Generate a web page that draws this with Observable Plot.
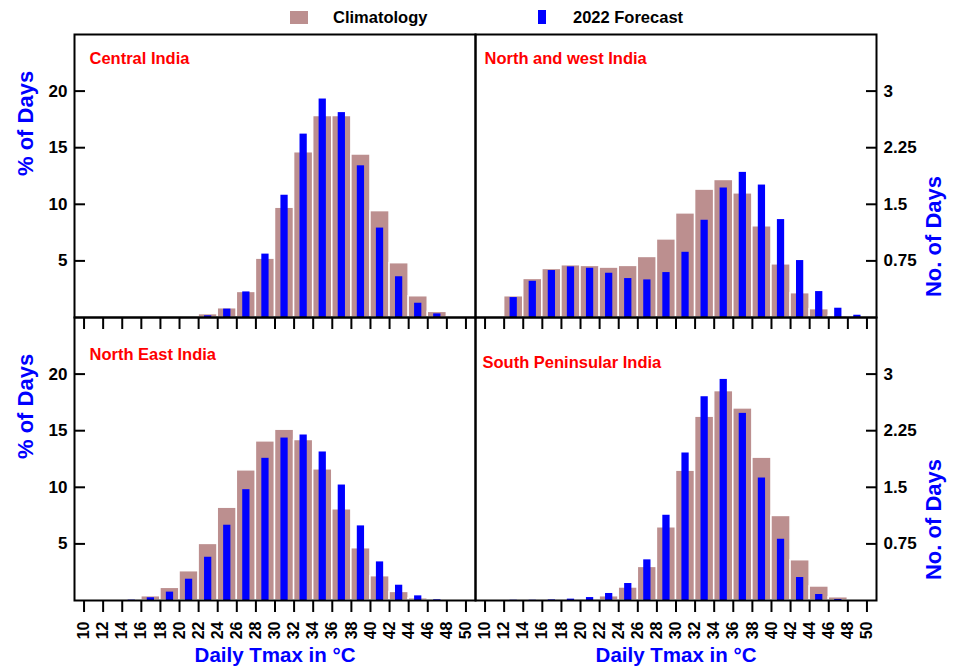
<!DOCTYPE html>
<html><head><meta charset="utf-8">
<script src="https://cdn.jsdelivr.net/npm/d3@7"></script>
<script src="https://cdn.jsdelivr.net/npm/@observablehq/plot@0.6"></script>
<style>
body{margin:0;background:#fff;}
#chart{position:relative;width:957px;height:666px;font-family:"Liberation Sans",Arial,sans-serif;}
#chart svg{position:absolute;left:0;top:0;}
.leg{position:absolute;font-weight:bold;font-size:16.5px;line-height:20px;color:#000;white-space:nowrap;}
.sw{position:absolute;}
</style></head><body><div id="chart"></div>
<script>
// Bin centres (2 °C bins, 10-12 ... 48-50)
const bins = [11,13,15,17,19,21,23,25,27,29,31,33,35,37,39,41,43,45,47,49];
const xTicks = [10,12,14,16,18,20,22,24,26,28,30,32,34,36,38,40,42,44,46,48,50];
const yTicks = [5,10,15,20];
const rightTickLabels = ["0.75","1.5","2.25","3"];
const seriesNames = ["Climatology","2022 Forecast"];
const regions = ["Central India","North and west India","North East India","South Peninsular India"];

// % of days per bin
const centralClim = [0,0,0,0,0,0,0.3,0.82,2.26,5.2,9.7,14.6,17.8,17.8,14.4,9.4,4.8,1.88,0.5,0.05];
const centralFcst = [0,0,0,0,0,0,0.15,0.74,2.26,5.6,10.8,16.2,19.3,18.1,13.4,7.9,3.6,1.26,0.32,0];
const nwClim = [0,1.88,3.41,4.29,4.62,4.56,4.41,4.56,5.35,6.9,9.2,11.3,12.15,10.97,8.06,4.7,2.15,0.74,0.15,0.03];
const nwFcst = [0,1.76,3.2,4.15,4.47,4.35,3.91,3.44,3.32,3.97,5.76,8.59,11.44,12.82,11.7,8.65,5.03,2.29,0.82,0.2];
const neClim = [0,0,0.12,0.38,1.12,2.59,5.0,8.2,11.5,14.06,15.09,14.18,11.59,8.06,4.62,2.15,0.76,0.2,0.05,0];
const neFcst = [0,0,0.03,0.24,0.74,1.88,3.82,6.65,9.79,12.56,14.35,14.62,13.12,10.2,6.59,3.41,1.35,0.41,0.06,0];
const spClim = [0,0.02,0.02,0.03,0.05,0.09,0.38,1.15,2.97,6.47,11.47,16.24,18.5,16.97,12.62,7.47,3.56,1.24,0.29,0.03];
const spFcst = [0,0.02,0.02,0.05,0.12,0.26,0.62,1.5,3.59,7.53,13.03,18.0,19.53,16.53,10.82,5.41,2.03,0.53,0.09,0];

const BROWN = "#bc8f8f", BLUE = "#0000ff";
const W = 957, H = 666;
const chart = document.getElementById("chart");

function panel({clim, fcst, title, col, row, tdx, tdy}) {
  const left = col === 0 ? 74 : 475;
  const right = left + 401;
  const top = row === 0 ? 34 : 317;
  const bottom = top + 283;
  const climData = bins.map((c, i) => ({c, v: clim[i]}));
  const fcstData = bins.map((c, i) => ({c, v: fcst[i]}));
  const marks = [
    Plot.rect(climData, {x1: d => d.c - 1, x2: d => d.c + 1, y1: 0, y2: "v", fill: BROWN, stroke: "white", strokeWidth: 1.5}),
    Plot.rect(fcstData, {x1: d => d.c - 0.38, x2: d => d.c + 0.38, y1: 0, y2: "v", fill: BLUE}),
    Plot.frame({stroke: "black", strokeWidth: 2}),
    Plot.text([title], {frameAnchor: "top-left", dx: tdx, dy: tdy, textAnchor: "start", lineAnchor: "middle", fill: "#ff0000", fontSize: 16.5, fontWeight: "bold"})
  ];
  if (row === 0) {
    marks.push(Plot.axisX({ticks: xTicks, tickSize: 12, strokeWidth: 2, tickFormat: () => "", label: null}));
  } else {
    marks.push(Plot.axisX({ticks: xTicks, tickSize: 12, strokeWidth: 2, tickPadding: 9, tickRotate: -90, fontSize: 16, fontWeight: "bold", label: null}));
    marks.push(Plot.text(["Daily Tmax in °C"], {frameAnchor: "bottom", dy: 55, lineAnchor: "middle", fill: BLUE, fontSize: 20.5, fontWeight: "bold"}));
  }
  if (col === 0) {
    marks.push(Plot.axisY({anchor: "left", ticks: yTicks, tickSize: -11, strokeWidth: 2, tickFormat: () => "", label: null}));
    marks.push(Plot.axisY({anchor: "left", ticks: yTicks, tickSize: 0, tickPadding: 7, fontSize: 17, fontWeight: "bold", label: null}));
    marks.push(Plot.text(["% of Days"], {frameAnchor: "left", dx: -49, rotate: -90, fill: BLUE, fontSize: 22, fontWeight: "bold"}));
  } else {
    marks.push(Plot.axisY({anchor: "right", ticks: yTicks, tickSize: -11, strokeWidth: 2, tickFormat: () => "", label: null}));
    marks.push(Plot.axisY({anchor: "right", ticks: yTicks, tickSize: 0, tickPadding: 7, tickFormat: (d, i) => rightTickLabels[yTicks.indexOf(d)], fontSize: 17, fontWeight: "bold", label: null}));
    marks.push(Plot.text(["No. of Days"], {frameAnchor: "right", dx: 57, rotate: -90, fill: BLUE, fontSize: 22, fontWeight: "bold"}));
  }
  return Plot.plot({
    width: W, height: H,
    marginLeft: left, marginRight: W - right, marginTop: top, marginBottom: H - bottom,
    x: {domain: [9, 51]},
    y: {domain: [0, 25]},
    style: {background: "transparent", overflow: "visible", fontFamily: "'Liberation Sans', Arial, sans-serif", color: "black"},
    marks
  });
}

const specs = [
  {clim: centralClim, fcst: centralFcst, title: regions[0], col: 0, row: 0, tdx: 15, tdy: 24.5},
  {clim: nwClim, fcst: nwFcst, title: regions[1], col: 1, row: 0, tdx: 9, tdy: 24},
  {clim: neClim, fcst: neFcst, title: regions[2], col: 0, row: 1, tdx: 15, tdy: 37},
  {clim: spClim, fcst: spFcst, title: regions[3], col: 1, row: 1, tdx: 7, tdy: 45}
];
for (const s of specs) chart.appendChild(panel(s));

// Legend
function addDiv(cls, css, text) {
  const d = document.createElement("div");
  d.className = cls;
  Object.assign(d.style, css);
  if (text) d.textContent = text;
  chart.appendChild(d);
}
addDiv("sw", {left: "290px", top: "11px", width: "18px", height: "13px", background: BROWN});
addDiv("leg", {left: "333px", top: "7px"}, seriesNames[0]);
addDiv("sw", {left: "538px", top: "10px", width: "8px", height: "14px", background: BLUE});
addDiv("leg", {left: "573px", top: "7px"}, seriesNames[1]);
</script>
</body></html>
